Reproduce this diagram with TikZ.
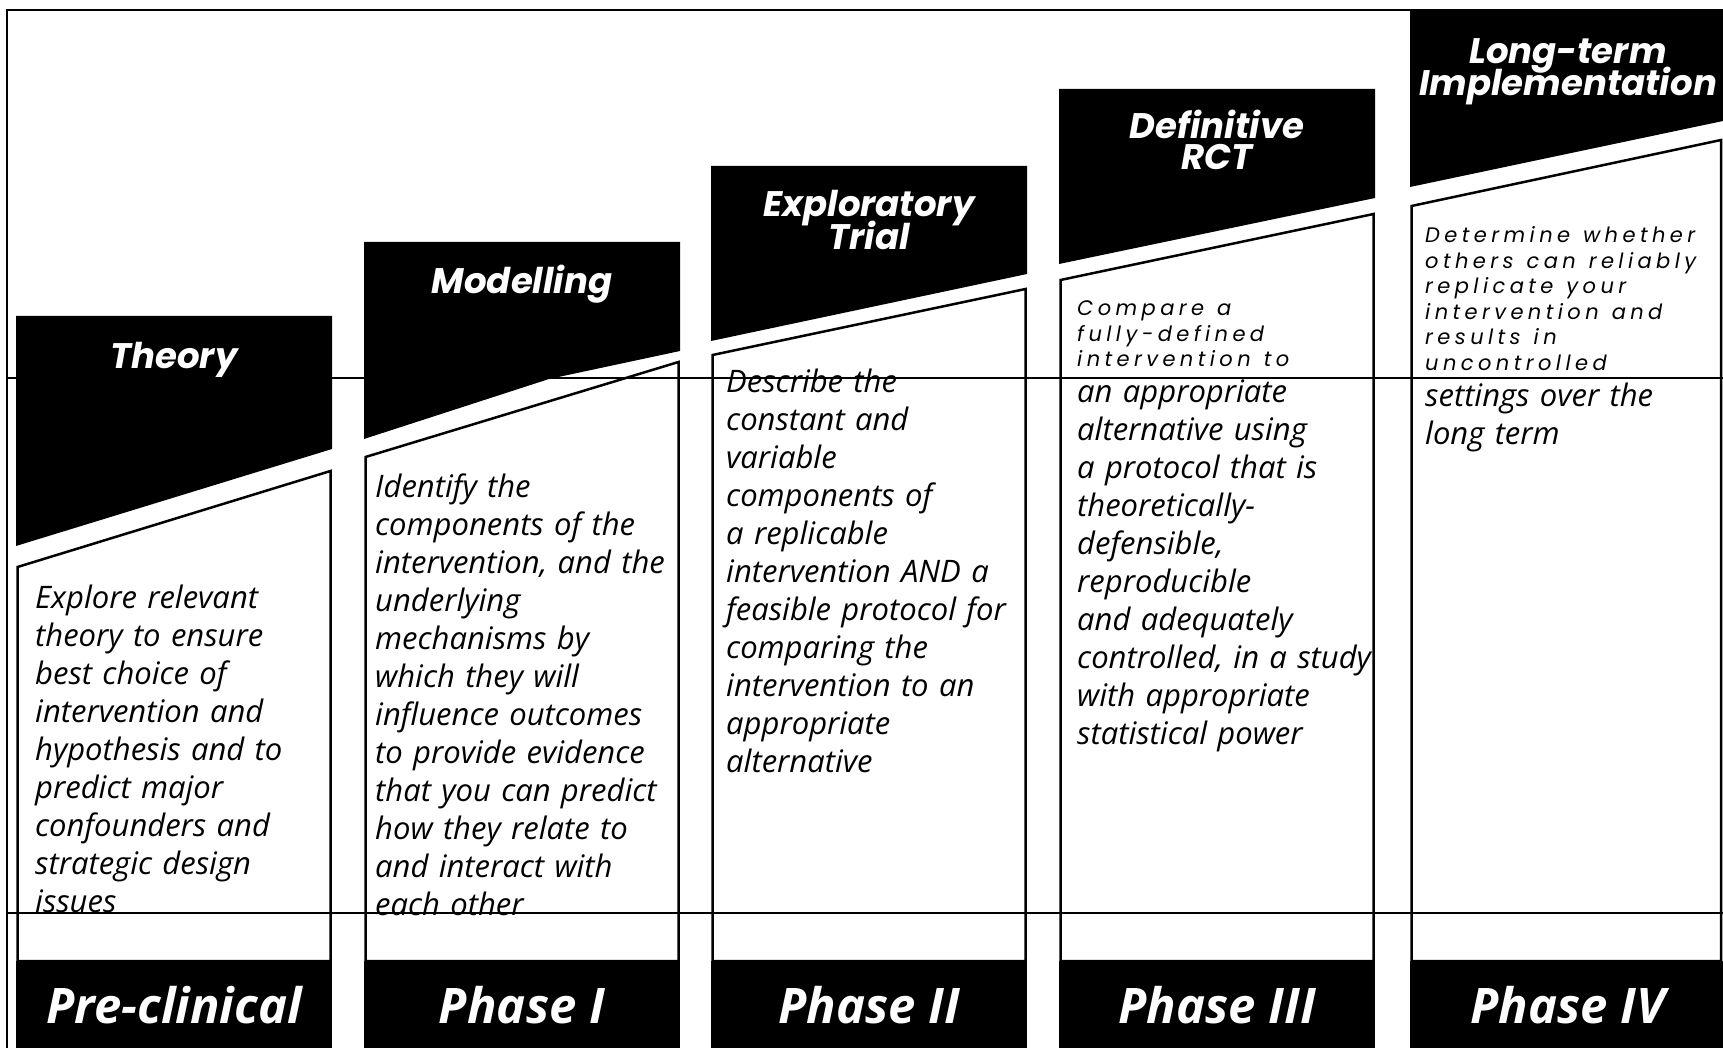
\documentclass[tikz,border=0pt]{standalone}
\usepackage{fontspec}
\setmainfont{Open Sans}
\newfontfamily\headfont{Poppins}
\newfontfamily\notefont{Poppins}[LetterSpace=21]
\tikzset{
  rule/.style={black,line width=2.5pt},
  box/.style={draw=black,fill=white,line width=2.5pt},
  headtext/.style={text=white,text width=316pt,align=center,anchor=base,inner sep=0pt,
    font=\headfont\bfseries\itshape\fontsize{35.5}{31}\selectfont},
  bodytext/.style={text width=330pt,align=left,anchor=base west,inner sep=0pt,
    font=\itshape\fontsize{31}{38}\selectfont},
  notetext/.style={text width=330pt,align=left,anchor=base west,inner sep=0pt,
    font=\notefont\itshape\fontsize{21}{25.5}\selectfont,
    execute at begin node={\spaceskip=13pt\relax}},
  foottext/.style={text=white,anchor=base,inner sep=0pt,
    font=\bfseries\itshape\fontsize{49}{50}\selectfont},
}
\begin{document}
\begin{tikzpicture}[x=1pt,y=-1pt]
  \useasboundingbox (0,0) rectangle (1723,1048);
  \draw[rule] (7,1048) -- (7,10) -- (1723,10);
  % Theory
  \fill[black] (16,316) -- (332,316) -- (332,449) -- (16,546) -- cycle;
  \draw[box] (17.5,567) -- (330.5,471) -- (330.5,961) -- (17.5,961) -- cycle;
  \fill[black] (16,961) rectangle (332,1048);
  % Modelling
  \fill[black] (364,242) -- (680,242) -- (680,351) -- (549,379) -- (364,439) -- cycle;
  \draw[box] (365.5,457) -- (678.5,362) -- (678.5,961) -- (365.5,961) -- cycle;
  \fill[black] (364,961) rectangle (680,1048);
  % Exploratory trial
  \fill[black] (711,166) -- (1027,166) -- (1027,274) -- (711,341) -- cycle;
  \draw[box] (712.5,355) -- (1025.5,289) -- (1025.5,961) -- (712.5,961) -- cycle;
  \fill[black] (711,961) rectangle (1027,1048);
  % Definitive RCT
  \fill[black] (1059,89) -- (1375,89) -- (1375,198) -- (1059,264) -- cycle;
  \draw[box] (1060.5,280) -- (1373.5,214) -- (1373.5,961) -- (1060.5,961) -- cycle;
  \fill[black] (1059,961) rectangle (1375,1048);
  % Long-term implementation
  \fill[black] (1410,10) -- (1723,10) -- (1723,121) -- (1410,187) -- cycle;
  \draw[box] (1411.5,206) -- (1721,140) -- (1721,961) -- (1411.5,961) -- cycle;
  \fill[black] (1410,961) rectangle (1723,1048);

  \node[headtext] (hd1) at (174,368) {Theory};
  \node[headtext] (hd2) at (522,294) {Modelling};
  \node[headtext] (hd3) at (869,217) {Exploratory\\[-6pt]Trial};
  \node[headtext] (hd4) at (1217,139) {Definitive\\RCT};
  \node[headtext] (hd5) at (1568,64) {Long-term\\[-8pt]Implementation};

  \node[bodytext] (tx1) at (35,608) {Explore relevant\\theory to ensure\\best choice of\\intervention and\\hypothesis and to\\predict major\\confounders and\\strategic design\\issues};
  \node[bodytext] (tx2) at (375,497) {Identify the\\components of the\\intervention, and the\\underlying\\mechanisms by\\which they will\\influence outcomes\\to provide evidence\\that you can predict\\how they relate to\\and interact with\\each other};
  \node[bodytext] (tx3) at (726,392) {Describe the\\constant and\\variable\\components of\\a replicable\\intervention AND a\\feasible protocol for\\comparing the\\intervention to an\\appropriate\\alternative};
  \node[notetext] (note4) at (1077,316) {Compare a\\fully-defined\\intervention to};
  \node[bodytext] (tx4) at (1077,402) {an appropriate\\alternative using\\a protocol that is\\theoretically-\\defensible,\\reproducible\\and adequately\\controlled, in a study\\with appropriate\\statistical power};
  \node[notetext] (note5) at (1425,243) {Determine whether\\others can reliably\\replicate your\\intervention and\\results in\\uncontrolled};
  \node[bodytext] (tx5) at (1425,406) {settings over the\\long term};

  \node[foottext] (ft1) at (174,1023) {Pre-clinical};
  \node[foottext] (ft2) at (522,1023) {Phase I};
  \node[foottext] (ft3) at (869,1023) {Phase II};
  \node[foottext] (ft4) at (1217,1023) {Phase III};
  \node[foottext] (ft5) at (1568,1023) {Phase IV};

  \draw[rule] (7,378) -- (1723,378);
  \draw[rule] (7,913) -- (1723,913);
\end{tikzpicture}
\end{document}
